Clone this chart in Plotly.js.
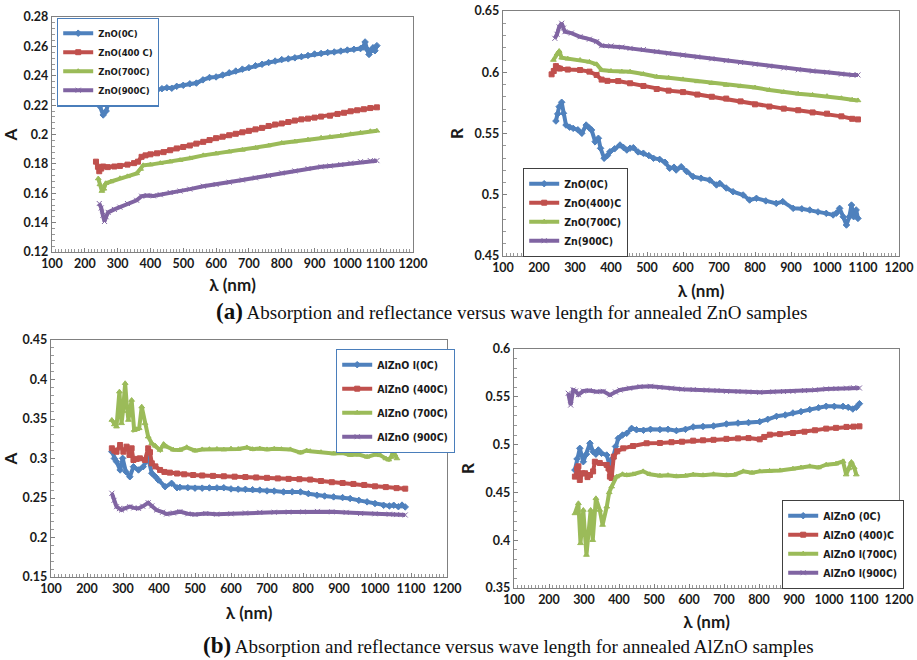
<!DOCTYPE html>
<html>
<head>
<meta charset="utf-8">
<script src="https://cdn.plot.ly/plotly-3.0.1.min.js"></script>
<style>html,body{margin:0;padding:0;background:#fff;}#chart{width:917px;height:660px;}</style>
</head>
<body>
<div id="chart"></div>
<script>
// ---------- (a) ZnO : absorption A ----------
const aZnO0_x = [246,256,265,272,285,300,318,328,340,353,363,372,379,390,400,410,420,435,450,465,480,500,520,540,560,580,600,620,640,660,680,700,720,740,760,780,800,820,840,860,880,900,920,940,960,980,1000,1020,1040,1048,1054,1060,1066,1072,1078,1084,1090];
const aZnO0_y = [0.2192,0.2133,0.2160,0.2215,0.2228,0.2232,0.2240,0.2222,0.2232,0.2275,0.2240,0.2300,0.2358,0.2345,0.2332,0.2315,0.2302,0.2312,0.2318,0.2315,0.2328,0.2335,0.2345,0.2350,0.2372,0.2388,0.2392,0.2405,0.2420,0.2432,0.2445,0.2455,0.2468,0.2478,0.2490,0.2500,0.2510,0.2515,0.2522,0.2530,0.2538,0.2548,0.2552,0.2558,0.2562,0.2568,0.2575,0.2580,0.2585,0.2595,0.2630,0.2580,0.2545,0.2570,0.2590,0.2570,0.2605];
const aZnO400_x = [234,240,244,250,256,270,290,307,330,350,362,373,385,400,420,440,460,480,500,520,540,561,580,600,620,640,660,680,700,720,740,760,780,800,820,840,860,880,900,920,947,970,990,1010,1030,1050,1070,1090];
const aZnO400_y = [0.1815,0.1780,0.1750,0.1768,0.1782,0.1778,0.1782,0.1786,0.1795,0.1805,0.1815,0.1848,0.1858,0.1865,0.1872,0.1880,0.1893,0.1905,0.1915,0.1925,0.1938,0.1950,0.1962,0.1975,0.1985,0.1995,0.2005,0.2015,0.2025,0.2035,0.2045,0.2058,0.2068,0.2075,0.2085,0.2095,0.2103,0.2108,0.2115,0.2122,0.2128,0.2140,0.2148,0.2158,0.2165,0.2172,0.2180,0.2185];
const aZnO700_x = [241,246,252,258,264,280,307,330,358,370,378,400,430,460,490,520,561,600,640,680,720,760,800,840,880,920,947,980,1010,1040,1070,1090];
const aZnO700_y = [0.1700,0.1660,0.1615,0.1630,0.1668,0.1680,0.1702,0.1715,0.1735,0.1765,0.1790,0.1795,0.1805,0.1815,0.1825,0.1838,0.1858,0.1870,0.1883,0.1895,0.1908,0.1925,0.1942,0.1952,0.1965,0.1978,0.1983,0.1992,0.2002,0.2012,0.2022,0.2025];
const aZnO900_x = [244,250,255,260,265,271,290,307,330,358,373,390,409,430,460,490,520,561,600,640,680,720,760,800,840,880,920,947,980,1010,1040,1070,1090];
const aZnO900_y = [0.1530,0.1500,0.1450,0.1408,0.1440,0.1470,0.1490,0.1505,0.1530,0.1552,0.1580,0.1585,0.1582,0.1590,0.1605,0.1615,0.1628,0.1648,0.1660,0.1675,0.1690,0.1705,0.1720,0.1738,0.1752,0.1768,0.1780,0.1786,0.1795,0.1805,0.1815,0.1822,0.1822];

// ---------- (a) ZnO : reflectance R ----------
const rZnO0_x = [247,252,256,263,268,275,285,295,308,319,331,340,346,356,365,371,381,390,397,410,425,435,444,453,462,475,490,505,518,535,550,563,575,581,595,610,628,650,674,693,702,720,739,767,785,804,830,859,877,906,930,952,975,998,1017,1026,1035,1045,1054,1062,1068,1074,1081,1086];
const rZnO0_y = [0.5602,0.5660,0.5719,0.5755,0.5665,0.5569,0.5552,0.5542,0.5530,0.5502,0.5569,0.5545,0.5529,0.5433,0.5461,0.5379,0.5298,0.5320,0.5351,0.5375,0.5406,0.5385,0.5365,0.5380,0.5384,0.5350,0.5339,0.5320,0.5298,0.5289,0.5265,0.5216,0.5225,0.5202,0.5229,0.5190,0.5148,0.5135,0.5120,0.5080,0.5093,0.5055,0.5025,0.4998,0.4957,0.4971,0.4950,0.4930,0.4944,0.4889,0.4885,0.4876,0.4860,0.4848,0.4835,0.4850,0.4889,0.4820,0.4753,0.4820,0.4916,0.4821,0.4876,0.4807];
const rZnO400_x = [235,241,247,252,258,280,314,340,360,374,390,420,453,490,527,560,600,640,680,720,760,800,840,880,920,960,1000,1040,1070,1086];
const rZnO400_y = [0.5983,0.6010,0.6050,0.6035,0.6030,0.6022,0.6018,0.6005,0.5978,0.5940,0.5930,0.5928,0.5910,0.5888,0.5863,0.5850,0.5838,0.5818,0.5800,0.5785,0.5762,0.5738,0.5720,0.5703,0.5690,0.5672,0.5662,0.5640,0.5620,0.5615];
const rZnO700_x = [240,250,256,263,280,314,340,360,374,400,430,453,490,527,560,600,640,680,720,760,800,840,880,920,960,1000,1040,1070,1086];
const rZnO700_y = [0.6100,0.6150,0.6173,0.6118,0.6110,0.6100,0.6085,0.6065,0.6018,0.6010,0.6005,0.6004,0.5985,0.5964,0.5955,0.5942,0.5925,0.5910,0.5895,0.5885,0.5875,0.5855,0.5838,0.5825,0.5815,0.5805,0.5788,0.5775,0.5770];
const rZn900_x = [244,250,256,263,268,272,290,314,340,360,374,400,430,453,490,527,560,600,640,680,720,760,800,840,880,920,960,1000,1040,1070,1086];
const rZn900_y = [0.6277,0.6310,0.6370,0.6400,0.6360,0.6331,0.6320,0.6290,0.6270,0.6250,0.6217,0.6215,0.6205,0.6195,0.6185,0.6168,0.6155,0.6140,0.6125,0.6110,0.6095,0.6080,0.6065,0.6050,0.6035,0.6020,0.6010,0.6000,0.5985,0.5978,0.5978];

// ---------- (b) AlZnO : absorption A ----------
const aAl0_x = [269,276,282,292,299,308,319,329,343,356,370,380,390,398,417,435,450,458,480,500,520,540,561,580,600,620,640,660,680,700,720,746,770,793,815,839,860,885,910,931,955,978,1000,1024,1040,1052,1065,1075,1084];
const aAl0_y = [0.3086,0.3000,0.2960,0.2855,0.3002,0.2833,0.2769,0.2896,0.2855,0.2896,0.3002,0.2813,0.2770,0.2728,0.2643,0.2686,0.2630,0.2635,0.2630,0.2625,0.2625,0.2628,0.2628,0.2630,0.2615,0.2612,0.2610,0.2605,0.2600,0.2590,0.2588,0.2577,0.2578,0.2577,0.2555,0.2535,0.2525,0.2514,0.2505,0.2493,0.2470,0.2451,0.2430,0.2408,0.2400,0.2408,0.2390,0.2410,0.2387];
const aAl400_x = [269,276,282,292,301,310,318,324,329,338,347,361,370,375,380,390,403,415,430,450,470,495,520,550,580,610,640,670,700,730,760,790,820,850,880,910,940,970,1000,1030,1060,1084];
const aAl400_y = [0.3129,0.3100,0.3086,0.3171,0.3086,0.3150,0.3044,0.3129,0.2981,0.2995,0.3002,0.2981,0.3129,0.3080,0.2939,0.2900,0.2855,0.2830,0.2821,0.2810,0.2800,0.2791,0.2785,0.2780,0.2775,0.2770,0.2765,0.2760,0.2755,0.2748,0.2742,0.2738,0.2733,0.2715,0.2700,0.2690,0.2678,0.2665,0.2648,0.2638,0.2625,0.2618];
const aAl700_x = [269,276,282,290,296,300,306,311,315,324,331,338,345,352,361,370,380,390,403,413,421,440,458,477,500,520,540,561,580,600,620,644,660,680,700,720,740,765,793,810,820,850,885,910,931,955,978,1000,1015,1030,1038,1045,1050,1055,1061];
const aAl700_y = [0.3487,0.3430,0.3403,0.3846,0.3445,0.3600,0.3952,0.3650,0.3487,0.3740,0.3360,0.3370,0.3382,0.3656,0.3445,0.3276,0.3192,0.3160,0.3108,0.3180,0.3150,0.3110,0.3108,0.3142,0.3100,0.3115,0.3118,0.3120,0.3112,0.3125,0.3120,0.3140,0.3118,0.3125,0.3115,0.3122,0.3118,0.3115,0.3075,0.3100,0.3093,0.3080,0.3063,0.3070,0.3045,0.3050,0.3021,0.3050,0.3040,0.3000,0.2985,0.3020,0.3090,0.3050,0.3000];
const aAl900_x = [269,275,282,290,296,305,319,330,343,355,370,380,393,410,421,440,458,480,500,530,560,600,640,680,720,760,800,840,880,920,960,1000,1040,1060,1084];
const aAl900_y = [0.2560,0.2470,0.2390,0.2365,0.2348,0.2370,0.2390,0.2375,0.2369,0.2395,0.2440,0.2400,0.2348,0.2320,0.2297,0.2310,0.2327,0.2300,0.2292,0.2303,0.2295,0.2300,0.2310,0.2318,0.2320,0.2322,0.2325,0.2330,0.2325,0.2318,0.2305,0.2300,0.2295,0.2290,0.2285];

// ---------- (b) AlZnO : reflectance R ----------
const rAl0_x = [274,280,288,298,307,317,326,334,341,350,365,374,382,390,398,410,422,436,450,470,490,517,540,564,590,612,640,670,707,740,770,802,825,850,875,897,920,945,970,992,1015,1040,1055,1068,1078,1087];
const rAl0_y = [0.4734,0.4850,0.4961,0.4821,0.4900,0.5014,0.4926,0.4900,0.4944,0.4909,0.4891,0.4769,0.4856,0.4980,0.5066,0.5100,0.5118,0.5170,0.5155,0.5150,0.5160,0.5157,0.5160,0.5146,0.5160,0.5185,0.5190,0.5195,0.5216,0.5225,0.5230,0.5240,0.5265,0.5296,0.5310,0.5331,0.5345,0.5366,0.5385,0.5401,0.5400,0.5400,0.5390,0.5372,0.5390,0.5428];
const rAl400_x = [274,280,284,288,295,303,310,317,326,331,345,365,370,374,379,385,395,412,440,479,517,550,580,612,640,670,707,740,770,802,815,831,860,897,930,960,992,1020,1050,1070,1087];
const rAl400_y = [0.4665,0.4750,0.4773,0.4630,0.4700,0.4700,0.4660,0.4682,0.4720,0.4821,0.4808,0.4787,0.4750,0.4665,0.4651,0.4874,0.4930,0.4961,0.4985,0.5014,0.5017,0.5025,0.5030,0.5041,0.5045,0.5050,0.5060,0.5065,0.5068,0.5055,0.5080,0.5104,0.5110,0.5121,0.5135,0.5150,0.5167,0.5175,0.5185,0.5188,0.5191];
const rAl700_x = [274,284,290,298,307,319,325,334,345,353,365,372,379,393,410,422,440,469,488,517,540,564,590,612,640,670,707,730,755,780,802,830,860,897,920,945,970,992,1020,1040,1049,1056,1064,1072,1078];
const rAl700_y = [0.4280,0.4386,0.3967,0.4316,0.3845,0.4316,0.4000,0.4438,0.4316,0.4159,0.4350,0.4500,0.4560,0.4664,0.4690,0.4681,0.4690,0.4720,0.4690,0.4675,0.4680,0.4668,0.4675,0.4686,0.4680,0.4690,0.4679,0.4685,0.4720,0.4705,0.4720,0.4725,0.4730,0.4748,0.4760,0.4773,0.4760,0.4790,0.4800,0.4825,0.4686,0.4750,0.4818,0.4760,0.4686];
const rAl900_x = [255,262,269,276,284,298,315,336,355,374,390,403,430,460,490,517,550,580,612,650,680,707,740,770,802,840,870,897,930,960,992,1020,1050,1070,1087];
const rAl900_y = [0.5537,0.5414,0.5571,0.5560,0.5522,0.5560,0.5565,0.5553,0.5557,0.5519,0.5550,0.5571,0.5590,0.5606,0.5610,0.5599,0.5590,0.5580,0.5575,0.5570,0.5565,0.5557,0.5555,0.5550,0.5547,0.5552,0.5555,0.5557,0.5565,0.5572,0.5582,0.5585,0.5590,0.5595,0.5592];

// ---------- labels ----------
const namesZnOA = ['ZnO(0C)','ZnO(400 C)','ZnO(700C)','ZnO(900C)'];
const namesZnOR = ['ZnO(0C)','ZnO(400)C','ZnO(700C)','Zn(900C)'];
const namesAlA = ['AlZnO l(0C)','AlZnO (400C)','AlZnO (700C)','AlZnO (900C)'];
const namesAlR = ['AlZnO (0C)','AlZnO (400)C','AlZnO l(700C)','AlZnO l(900C)'];
const xTicks = [100,200,300,400,500,600,700,800,900,1000,1100,1200];
const yTicksTL = [0.12,0.14,0.16,0.18,0.2,0.22,0.24,0.26,0.28];
const yTicksTR = [0.45,0.5,0.55,0.6,0.65];
const yTicksBL = [0.15,0.2,0.25,0.3,0.35,0.4,0.45];
const yTicksBR = [0.35,0.4,0.45,0.5,0.55,0.6];
const xTitle = 'λ (nm)';
const captionA = 'Absorption and reflectance versus wave length for annealed ZnO samples';
const captionB = 'Absorption and reflectance versus wave length for annealed AlZnO samples';

// ---------- styling ----------
const colors = ['#4f81bd','#c0504d','#9bbb59','#8064a2'];
const symbols = ['diamond','square','triangle-up','x-thin-open'];
const W = 917, H = 660;
const px = (a,b) => [a/W, b/W];
const py = (top,bot) => [1-bot/H, 1-top/H];
const sansFont = 'Lato, "Open Sans", sans-serif';
const narrowFont = '"Liberation Sans Narrow", "DejaVu Sans Condensed", Lato, sans-serif';

function mk(xs, ys, i, name, xa, ya, leg){
  return {
    x: xs, y: ys, name: name, type: 'scatter', mode: 'lines+markers',
    xaxis: xa, yaxis: ya, legend: leg, legendgroup: leg + '_' + i,
    line: {color: colors[i], width: 4},
    marker: {color: colors[i], symbol: symbols[i], size: 5, line:{color: colors[i], width: 1}}
  };
}

const data = [
  mk(aZnO0_x, aZnO0_y, 0, namesZnOA[0], 'x', 'y', 'legend'),
  mk(aZnO400_x, aZnO400_y, 1, namesZnOA[1], 'x', 'y', 'legend'),
  mk(aZnO700_x, aZnO700_y, 2, namesZnOA[2], 'x', 'y', 'legend'),
  mk(aZnO900_x, aZnO900_y, 3, namesZnOA[3], 'x', 'y', 'legend'),
  mk(rZnO0_x, rZnO0_y, 0, namesZnOR[0], 'x2', 'y2', 'legend2'),
  mk(rZnO400_x, rZnO400_y, 1, namesZnOR[1], 'x2', 'y2', 'legend2'),
  mk(rZnO700_x, rZnO700_y, 2, namesZnOR[2], 'x2', 'y2', 'legend2'),
  mk(rZn900_x, rZn900_y, 3, namesZnOR[3], 'x2', 'y2', 'legend2'),
  mk(aAl0_x, aAl0_y, 0, namesAlA[0], 'x3', 'y3', 'legend3'),
  mk(aAl400_x, aAl400_y, 1, namesAlA[1], 'x3', 'y3', 'legend3'),
  mk(aAl700_x, aAl700_y, 2, namesAlA[2], 'x3', 'y3', 'legend3'),
  mk(aAl900_x, aAl900_y, 3, namesAlA[3], 'x3', 'y3', 'legend3'),
  mk(rAl0_x, rAl0_y, 0, namesAlR[0], 'x4', 'y4', 'legend4'),
  mk(rAl400_x, rAl400_y, 1, namesAlR[1], 'x4', 'y4', 'legend4'),
  mk(rAl700_x, rAl700_y, 2, namesAlR[2], 'x4', 'y4', 'legend4'),
  mk(rAl900_x, rAl900_y, 3, namesAlR[3], 'x4', 'y4', 'legend4')
];

const tickFont = {family: sansFont, size: 12.5, color: '#1a1a1a', weight: 'bold'};
const titleFont = {family: sansFont, size: 17, color: '#1a1a1a', weight: 'bold'};

function xAxis(dom, anchor, standoff){
  return {
    domain: dom, anchor: anchor, range: [100,1200],
    tickvals: xTicks, ticktext: xTicks.map(String),
    showgrid: false, zeroline: false, showline: true, mirror: true,
    linecolor: '#808080', linewidth: 1.3,
    ticks: 'inside', ticklen: 4, tickcolor: '#808080',
    minor: {ticks: 'inside', ticklen: 3, dtick: 10, tickcolor: '#999', showgrid: false},
    tickfont: tickFont,
    title: {text: xTitle, font: titleFont, standoff: standoff}
  };
}
function yAxis(dom, anchor, range, tv, minorStep, title){
  return {
    domain: dom, anchor: anchor, range: range,
    tickvals: tv, ticktext: tv.map(String),
    showgrid: false, zeroline: false, showline: true, mirror: true,
    linecolor: '#808080', linewidth: 1.3,
    ticks: 'inside', ticklen: 4, tickcolor: '#808080',
    minor: {ticks: 'inside', ticklen: 3, dtick: minorStep, tickcolor: '#999', showgrid: false},
    tickfont: tickFont,
    title: {text: title, font: titleFont, standoff: 6}
  };
}
function legendBox(x, y, border, size, gap){
  return {
    x: x/W, y: 1-y/H, xanchor: 'left', yanchor: 'top',
    bgcolor: '#ffffff', bordercolor: border, borderwidth: 1.2,
    font: {family: narrowFont, size: size, color: '#1a1a1a', weight: 'bold'},
    itemwidth: 30, tracegroupgap: gap
  };
}

const layout = {
  width: W, height: H,
  margin: {l: 0, r: 0, t: 0, b: 0},
  paper_bgcolor: '#ffffff', plot_bgcolor: '#ffffff',
  showlegend: true,
  xaxis:  xAxis(px(52,413), 'y', 8),
  yaxis:  yAxis(py(17,252), 'x', [0.12,0.28], yTicksTL, 0.004, 'A'),
  xaxis2: xAxis(px(503,899), 'y2', 10),
  yaxis2: yAxis(py(11,256), 'x2', [0.45,0.65], yTicksTR, 0.01, 'R'),
  xaxis3: xAxis(px(51,447), 'y3', 11),
  yaxis3: yAxis(py(340,577), 'x3', [0.15,0.45], yTicksBL, 0.01, 'A'),
  xaxis4: xAxis(px(514,899), 'y4', 9),
  yaxis4: yAxis(py(349,588), 'x4', [0.35,0.6], yTicksBR, 0.01, 'R'),
  legend:  legendBox(57, 17.5, '#4a7ebb', 9.5, 0),
  legend2: legendBox(523, 168, '#404040', 10.5, 0),
  legend3: legendBox(336, 349, '#4a7ebb', 10.5, 5),
  legend4: legendBox(782, 500, '#404040', 10.5, 0),
  annotations: [
    {xref: 'paper', yref: 'paper', x: 511/W, y: 1-312/H, xanchor: 'center', yanchor: 'middle', showarrow: false,
     text: '<b style="font-size:23px">(a)</b> ' + captionA,
     font: {family: '"Liberation Serif", "Times New Roman", serif', size: 19, color: '#111'}},
    {xref: 'paper', yref: 'paper', x: 509/W, y: 1-645/H, xanchor: 'center', yanchor: 'middle', showarrow: false,
     text: '<b style="font-size:23px">(b)</b> ' + captionB,
     font: {family: '"Liberation Serif", "Times New Roman", serif', size: 19, color: '#111'}}
  ]
};

Plotly.newPlot('chart', data, layout, {staticPlot: true, displayModeBar: false});
</script>
</body>
</html>
